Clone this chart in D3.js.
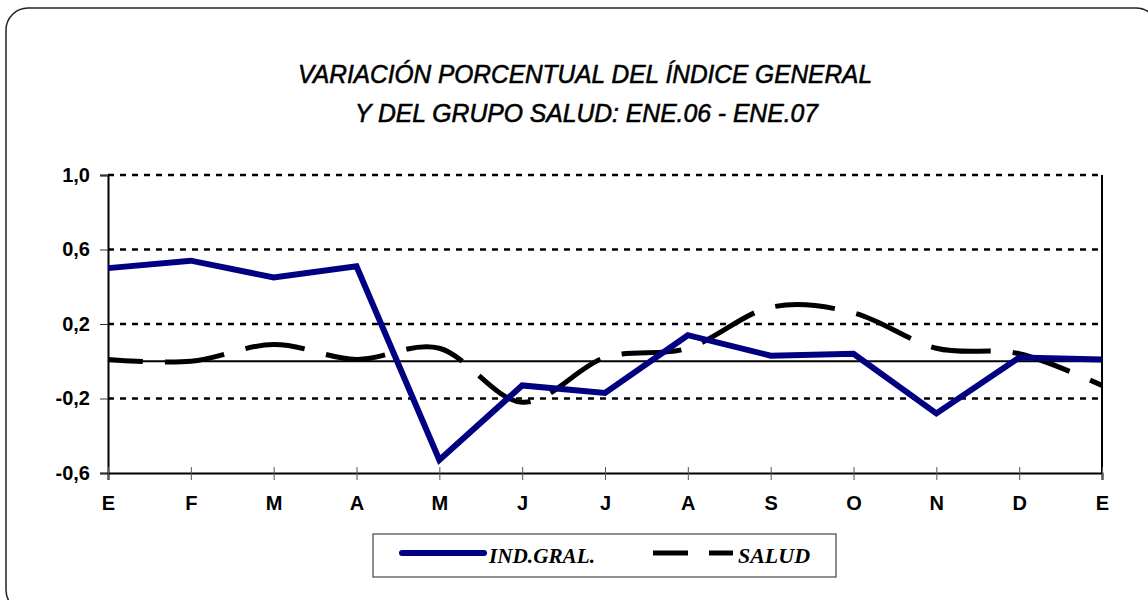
<html>
<head>
<script src="https://d3js.org/d3.v7.min.js"></script>
<style>
  body { margin: 0; background: #fff; }
  svg { display: block; }
</style>
</head>
<body>
<script>
// chart data
const months = ['E', 'F', 'M', 'A', 'M', 'J', 'J', 'A', 'S', 'O', 'N', 'D', 'E'];
const indGral = [0.50, 0.54, 0.45, 0.51, -0.53, -0.13, -0.17, 0.14, 0.03, 0.04, -0.28, 0.02, 0.01];
const salud = [0.01, 0.00, 0.09, 0.01, 0.07, -0.22, 0.02, 0.07, 0.29, 0.26, 0.07, 0.04, -0.13];
const yTicks = [-0.6, -0.2, 0.2, 0.6, 1.0];
const titleLines = ['VARIACIÓN PORCENTUAL DEL ÍNDICE GENERAL', 'Y DEL GRUPO SALUD:  ENE.06 - ENE.07'];
const seriesNames = ['IND.GRAL.', 'SALUD'];

const W = 1148, H = 600;
const pLeft = 108, pRight = 1102, pTop = 175, pBottom = 473;

const svg = d3.select('body').append('svg').attr('width', W).attr('height', H);

// outer frame
svg.append('rect')
  .attr('x', 6).attr('y', 8).attr('width', 1152).attr('height', 604)
  .attr('rx', 22).attr('ry', 22)
  .attr('fill', 'none').attr('stroke', '#222').attr('stroke-width', 1.5);

// title
svg.selectAll('.title')
  .data(titleLines)
  .enter()
  .append('text')
  .attr('class', 'title')
  .attr('x', (d, i) => i === 0 ? 298 : 355)
  .attr('y', (d, i) => 83 + i * 39)
  .attr('textLength', (d, i) => i === 0 ? 574 : 463)
  .attr('lengthAdjust', 'spacingAndGlyphs')
  .attr('stroke', '#000').attr('stroke-width', 0.6)
  .style('font-family', 'Liberation Sans, Arial, sans-serif')
  .style('font-style', 'italic')
  .style('font-size', '26px')
  .text(d => d);

const x = d3.scalePoint().domain(d3.range(months.length)).range([pLeft, pRight]);
const y = d3.scaleLinear().domain([-0.6, 1.0]).range([pBottom, pTop]);

// dotted gridlines
svg.append('g')
  .selectAll('line')
  .data(yTicks.filter(d => d > -0.6))
  .enter()
  .append('line')
  .attr('x1', pLeft).attr('x2', pRight)
  .attr('y1', d => y(d)).attr('y2', d => y(d))
  .attr('stroke', '#000').attr('stroke-width', 2.5)
  .attr('stroke-dasharray', '6,6');

// zero line
svg.append('line')
  .attr('x1', pLeft).attr('x2', pRight)
  .attr('y1', y(0)).attr('y2', y(0))
  .attr('stroke', '#000').attr('stroke-width', 2);

// right border
svg.append('line')
  .attr('x1', pRight).attr('x2', pRight)
  .attr('y1', pTop).attr('y2', pBottom)
  .attr('stroke', '#000').attr('stroke-width', 2);

// y axis
const yAxis = svg.append('g')
  .attr('transform', `translate(${pLeft},0)`)
  .call(d3.axisLeft(y).tickValues(yTicks).tickSize(8).tickPadding(10)
    .tickFormat(d => d3.format('.1f')(d).replace('.', ',').replace('−', '-')));
yAxis.select('.domain').attr('stroke', '#000').attr('stroke-width', 2);
yAxis.selectAll('.tick line').attr('stroke', '#333').attr('stroke-width', 1);
yAxis.selectAll('.tick text')
  .attr('font-family', 'Liberation Sans, Arial, sans-serif')
  .attr('font-weight', 'bold')
  .attr('font-size', 20)
  .attr('fill', '#000');

// x axis
const xAxis = svg.append('g')
  .attr('transform', `translate(0,${pBottom})`)
  .call(d3.axisBottom(x).tickSize(7).tickPadding(16).tickFormat(i => months[i]));
xAxis.select('.domain').attr('stroke', '#000').attr('stroke-width', 2);
xAxis.selectAll('.tick line').attr('y1', -6).attr('stroke', '#555').attr('stroke-width', 1);
xAxis.selectAll('.tick text')
  .attr('font-family', 'Liberation Sans, Arial, sans-serif')
  .attr('font-weight', 'bold')
  .attr('font-size', 20)
  .attr('fill', '#000');

// SALUD smoothed dashed line
const saludLine = d3.line()
  .x((d, i) => x(i))
  .y(d => y(d))
  .curve(d3.curveCatmullRom.alpha(0));

svg.append('path')
  .datum(salud)
  .attr('d', saludLine)
  .attr('fill', 'none')
  .attr('stroke', '#000')
  .attr('stroke-width', 5)
  .attr('stroke-dasharray', '60,22')
  .attr('stroke-dashoffset', 25);

// IND.GRAL. line
const gralLine = d3.line()
  .x((d, i) => x(i))
  .y(d => y(d));

svg.append('path')
  .datum(indGral)
  .attr('d', gralLine)
  .attr('fill', 'none')
  .attr('stroke', '#000080')
  .attr('stroke-width', 6)
  .attr('stroke-linejoin', 'miter');

// legend
const lg = svg.append('g');
lg.append('rect')
  .attr('x', 373).attr('y', 534).attr('width', 463).attr('height', 43)
  .attr('fill', '#fff').attr('stroke', '#444').attr('stroke-width', 1.2);

lg.append('line')
  .attr('x1', 402).attr('x2', 484).attr('y1', 553).attr('y2', 553)
  .attr('stroke', '#000080').attr('stroke-width', 6).attr('stroke-linecap', 'round');

lg.append('line')
  .attr('x1', 653).attr('x2', 733).attr('y1', 553).attr('y2', 553)
  .attr('stroke', '#000').attr('stroke-width', 5).attr('stroke-dasharray', '35,21');

lg.selectAll('text')
  .data(seriesNames)
  .enter()
  .append('text')
  .attr('x', (d, i) => i === 0 ? 489 : 738)
  .attr('y', 563)
  .attr('textLength', (d, i) => i === 0 ? 106 : 72)
  .attr('lengthAdjust', 'spacingAndGlyphs')
  .style('font-family', 'Liberation Serif, Times New Roman, serif')
  .style('font-style', 'italic')
  .style('font-weight', 'bold')
  .style('font-size', '21px')
  .text(d => d);
</script>
</body>
</html>
